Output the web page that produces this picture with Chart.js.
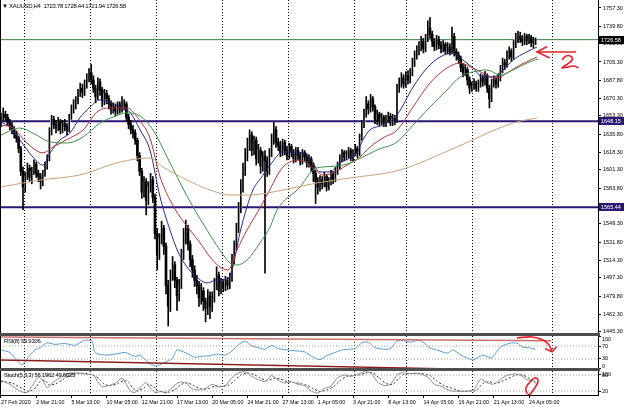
<!DOCTYPE html>
<html><head><meta charset="utf-8">
<script src="https://cdn.jsdelivr.net/npm/chart.js@4.4.0/dist/chart.umd.min.js"></script>
<style>
html,body{margin:0;padding:0;background:#fff;width:625px;height:407px;overflow:hidden;font-family:"Liberation Sans",Arial,sans-serif}
#wrap{position:relative;width:625px;height:407px}
canvas{position:absolute;left:0}
.sep{position:absolute;left:0;width:600px;height:3px;background:#4d4d4d}
.lbl{position:absolute;font-size:6px;color:#000;white-space:pre;line-height:7px;letter-spacing:-0.3px}
</style></head><body><div id="wrap">
<canvas id="main" width="625" height="334" style="top:0"></canvas>
<canvas id="rsi" width="625" height="33" style="top:336px"></canvas>
<canvas id="sto" width="625" height="36" style="top:371px"></canvas>
<div class="sep" style="top:333px"></div>
<div class="sep" style="top:368px"></div>
<div class="lbl" style="left:2px;top:3px">▼ XAUUSD,H4  1723.78 1728.44 1721.94 1726.58</div>
<div class="lbl" style="left:4px;top:338px">RSI(8) 59.9306</div>
<div class="lbl" style="left:4px;top:372px">Stoch(5,3,3) 56.1962 49.6625</div>
</div>
<script>
// ---------- data ----------
const dateLabels = ["27 Feb 2020","2 Mar 21:00","5 Mar 13:00","10 Mar 05:00","12 Mar 21:00","17 Mar 13:00","20 Mar 05:00","24 Mar 21:00","27 Mar 13:00","1 Apr 05:00","3 Apr 21:00","8 Apr 13:00","14 Apr 05:00","16 Apr 21:00","21 Apr 13:00","24 Apr 05:00"];
const dateLabelBars = [0,16,32,48,64,80,96,112,128,144,160,176,192,208,224,240];
const weekGridBars = [10.9,40.9,70.9,100.9,130.9,160.9,184.5,214.1,250.5];
const priceTicks = [1757.30,1739.80,1722.80,1705.30,1687.80,1670.30,1653.30,1635.80,1618.30,1601.30,1583.80,1549.30,1531.80,1514.30,1497.30,1479.80,1462.30,1445.30];
const hLevels = [1648.15,1565.44];
const greenLevel = 1726.8;
const lastPrice = 1726.58;

const open = [1646,1650,1655,1652,1647,1644,1640,1636,1632,1622,
1600,1585,1595,1603,1594,1600,1607,1598,1595,1590,
1598,1605,1612,1638,1650,1645,1642,1648,1640,1646,
1643,1640,1652,1660,1664,1668,1675,1680,1676,1684,
1690,1695,1688,1680,1672,1686,1678,1668,1675,1670,
1665,1660,1662,1658,1664,1660,1662,1665,1652,1645,
1640,1637,1630,1615,1600,1580,1590,1572,1585,1592,
1575,1540,1520,1535,1545,1528,1490,1470,1500,1510,
1495,1480,1490,1520,1535,1545,1530,1515,1505,1495,
1490,1478,1485,1475,1468,1480,1470,1478,1490,1500,
1485,1492,1488,1495,1490,1497,1515,1528,1545,1565,
1585,1600,1615,1625,1635,1620,1630,1612,1620,1605,
1615,1610,1600,1618,1630,1640,1628,1625,1618,1628,
1620,1615,1624,1618,1612,1620,1615,1610,1618,1614,
1608,1612,1605,1598,1590,1585,1592,1588,1595,1585,
1590,1598,1592,1600,1605,1612,1618,1614,1616,1620,
1613,1618,1622,1617,1632,1645,1655,1665,1660,1670,
1662,1650,1655,1648,1652,1646,1650,1653,1647,1651,
1649,1680,1685,1690,1684,1692,1688,1695,1705,1712,
1716,1720,1725,1718,1728,1738,1732,1725,1720,1727,
1722,1718,1722,1716,1720,1715,1730,1715,1712,1708,
1700,1695,1698,1688,1680,1682,1685,1680,1684,1690,
1686,1692,1680,1670,1685,1688,1684,1690,1698,1705,
1702,1712,1716,1710,1722,1728,1730,1728,1725,1730,
1726,1729,1724,1723.78];
const high = [1656,1661,1658,1655,1650,1647,1643,1639,1634,1624,
1604,1599,1608,1606,1604,1611,1609,1601,1598,1601,
1609,1616,1642,1654,1653,1649,1652,1650,1649,1650,
1646,1655,1664,1669,1672,1679,1685,1684,1688,1694,
1699,1703,1692,1683,1690,1689,1681,1679,1678,1673,
1668,1666,1665,1667,1667,1672,1669,1667,1655,1649,
1644,1640,1632,1618,1603,1595,1593,1590,1598,1595,
1578,1545,1540,1552,1548,1531,1495,1505,1518,1513,
1498,1496,1525,1545,1553,1548,1533,1519,1509,1500,
1494,1492,1488,1478,1486,1484,1484,1497,1508,1503,
1497,1496,1499,1498,1502,1520,1533,1550,1570,1592,
1608,1622,1632,1640,1638,1634,1633,1626,1623,1619,
1620,1614,1622,1636,1647,1643,1632,1629,1631,1630,
1624,1627,1626,1621,1623,1623,1618,1621,1620,1617,
1616,1614,1608,1601,1594,1596,1595,1599,1597,1594,
1601,1600,1604,1609,1616,1621,1620,1620,1623,1622,
1621,1626,1624,1636,1649,1660,1672,1668,1674,1672,
1664,1659,1657,1656,1654,1654,1657,1656,1655,1654,
1684,1690,1695,1693,1696,1697,1699,1709,1716,1721,
1725,1730,1728,1732,1745,1748,1735,1728,1731,1730,
1725,1726,1724,1724,1723,1739,1733,1718,1715,1711,
1704,1703,1700,1691,1686,1689,1687,1688,1694,1693,
1696,1694,1683,1689,1692,1691,1694,1702,1709,1708,
1716,1720,1718,1726,1733,1735,1734,1731,1733,1732,
1732,1731,1729,1728.44];
const low = [1643,1648,1649,1644,1640,1636,1632,1628,1618,1596,
1563,1580,1592,1590,1588,1597,1594,1590,1583,1586,
1595,1602,1610,1635,1641,1637,1639,1636,1637,1639,
1635,1638,1650,1656,1660,1665,1672,1671,1673,1680,
1686,1684,1676,1666,1669,1673,1662,1664,1665,1660,
1655,1656,1653,1655,1656,1657,1659,1648,1641,1636,
1632,1626,1610,1596,1574,1575,1558,1568,1580,1570,
1535,1505,1515,1530,1520,1482,1451,1465,1495,1488,
1466,1475,1487,1515,1530,1524,1508,1498,1489,1482,
1470,1472,1466,1455,1462,1458,1465,1474,1486,1480,
1482,1484,1485,1486,1487,1494,1511,1524,1541,1560,
1580,1596,1610,1620,1615,1616,1606,1608,1598,1600,
1502,1595,1597,1614,1626,1623,1620,1614,1615,1616,
1611,1612,1614,1608,1609,1611,1606,1607,1610,1604,
1604,1600,1590,1569,1578,1581,1583,1585,1581,1582,
1587,1588,1590,1597,1602,1609,1610,1611,1613,1610,
1610,1615,1613,1615,1630,1642,1652,1655,1657,1658,
1646,1645,1644,1645,1643,1643,1647,1644,1644,1645,
1647,1676,1681,1680,1681,1684,1685,1692,1701,1708,
1712,1716,1714,1715,1725,1728,1720,1716,1717,1718,
1714,1715,1713,1713,1712,1713,1711,1707,1704,1696,
1691,1692,1683,1675,1677,1679,1677,1677,1681,1682,
1683,1676,1661,1667,1681,1680,1681,1687,1695,1698,
1700,1708,1706,1708,1719,1724,1724,1721,1722,1722,
1723,1720,1719,1721.94];
const close = [1650,1655,1652,1647,1644,1640,1636,1632,1622,1600,
1585,1595,1603,1594,1600,1607,1598,1595,1590,1598,
1605,1612,1638,1650,1645,1642,1648,1640,1646,1643,
1640,1652,1660,1664,1668,1675,1680,1676,1684,1690,
1695,1688,1680,1672,1686,1678,1668,1675,1670,1665,
1660,1662,1658,1664,1660,1662,1665,1652,1645,1640,
1637,1630,1615,1600,1580,1590,1572,1585,1592,1575,
1540,1520,1535,1545,1528,1490,1470,1500,1510,1495,
1480,1490,1520,1535,1545,1530,1515,1505,1495,1490,
1478,1485,1475,1468,1480,1470,1478,1490,1500,1485,
1492,1488,1495,1490,1497,1515,1528,1545,1565,1585,
1600,1615,1625,1635,1620,1630,1612,1620,1605,1615,
1610,1600,1618,1630,1640,1628,1625,1618,1628,1620,
1615,1624,1618,1612,1620,1615,1610,1618,1614,1608,
1612,1605,1598,1590,1585,1592,1588,1595,1585,1590,
1598,1592,1600,1605,1612,1618,1614,1616,1620,1613,
1618,1622,1617,1632,1645,1655,1665,1660,1670,1662,
1650,1655,1648,1652,1646,1650,1653,1647,1651,1649,
1680,1685,1690,1684,1692,1688,1695,1705,1712,1716,
1720,1725,1718,1728,1738,1732,1725,1720,1727,1722,
1718,1722,1716,1720,1715,1730,1715,1712,1708,1700,
1695,1698,1688,1680,1682,1685,1680,1684,1690,1686,
1692,1680,1670,1685,1688,1684,1690,1698,1705,1702,
1712,1716,1710,1722,1728,1730,1728,1725,1730,1726,
1729,1724,1723.78,1726.58];

// moving averages: [bar, price]
const maBlue = [[0,1647.5],[4,1642.7],[8.6,1630.2],[14.5,1613.8],[19,1606],[22.3,1617.7],[26.8,1630.2],[31.4,1637],[36,1652],[40.5,1662],[45,1668.7],[49.5,1666.8],[54,1662],[58.6,1657],[63.2,1640],[67.7,1620.5],[72.3,1575.3],[76.8,1543.5],[80.5,1522.3],[84.5,1508],[89,1498],[93.6,1492.5],[98.2,1495.4],[102.7,1495.4],[105,1505],[108.6,1540.6],[111.8,1565.7],[114.5,1582],[119,1596],[122.3,1606],[128.2,1618.6],[134.5,1618.6],[140.5,1612.8],[145,1599.4],[149.5,1599.4],[154,1608],[158.6,1612.8],[161.8,1617.7],[164.5,1630.2],[167.7,1639.8],[173.6,1644.6],[180,1654.3],[187.3,1681.2],[193.6,1699.5],[199.5,1710],[205.5,1714],[210,1707.2],[214.5,1699.5],[219,1690.8],[223.6,1690.8],[228.2,1697.6],[232.7,1707.2],[239,1715],[243.6,1719.7]];
const maRed = [[0,1644.6],[5.5,1641.7],[11.8,1627.3],[19.1,1617.7],[23.6,1623.4],[31.4,1632.1],[37.3,1639.8],[43.6,1657.1],[49.5,1661],[57.3,1661],[63.2,1648.5],[67.7,1632],[72.3,1594.6],[76.8,1572.4],[81.4,1556],[85.9,1543.5],[90.5,1531],[95,1517.5],[99.5,1507.9],[103.2,1505],[107.3,1524.3],[111.8,1543.5],[116.4,1559.9],[120.9,1577.2],[128.2,1604.2],[135.9,1610.9],[141.8,1603.2],[146.4,1596.5],[150.9,1598.4],[157.3,1606.1],[163.2,1613.8],[167.7,1623.4],[173.6,1632.1],[180,1639.8],[187.3,1662],[195,1685.1],[202.7,1699.5],[208.6,1704.3],[214.5,1699.5],[220.9,1692.8],[225.5,1689.9],[230,1694.7],[235.9,1702.4],[243.6,1710.1]];
const maGreen = [[0,1635],[8.6,1641.7],[14.5,1636.9],[22.3,1628.3],[30,1627.3],[37.3,1633.1],[45,1646.5],[50.9,1652.3],[57.3,1656.2],[63.2,1653.3],[69.1,1639.8],[75.5,1613.8],[81.4,1588.8],[87.3,1565.7],[93.6,1543.5],[99.5,1524.3],[104.1,1511.7],[107.3,1509.8],[111.8,1514.6],[117.7,1531],[122.3,1546.4],[125.5,1562.8],[135.9,1584.9],[141.8,1601.3],[146.4,1604.2],[152.7,1605.1],[158.6,1608],[164.5,1613.8],[170.9,1620.6],[180,1628.3],[187.3,1644.6],[195,1662],[202.7,1678.3],[208.6,1690.8],[214.5,1695.7],[220.9,1697.6],[226.8,1692.8],[232.7,1697.6],[239.1,1704.3],[244.1,1708.2]];
const maTan = [[0,1584.9],[18.2,1591.7],[35.9,1596.5],[54.1,1609],[67.7,1612.8],[73.6,1604.2],[84.5,1591.7],[95,1582],[104.1,1577.2],[113.2,1577.2],[128.2,1582],[143.6,1588.8],[158.6,1593.6],[181.4,1601.3],[204.1,1620.5],[232.7,1646.5],[243.6,1651.4]];

// RSI(8) and Stochastic(5,3,3): [bar, value]
const rsiValues = [[0,58],[4,50],[9.5,12],[13,40],[15.5,58],[17.7,65],[21,80],[24.5,75],[29,78],[33.6,72],[38,88],[41.4,85],[42.7,50],[47.3,42],[51.8,45],[56.4,50],[60.9,38],[63.2,42],[67.7,15],[70.9,8],[74.5,20],[77.7,30],[80,58],[83.6,50],[88.2,35],[90.5,38],[95,40],[98,45],[102,42],[105,55],[108,75],[111,85],[114,70],[117,65],[120,60],[123,72],[126,62],[130,58],[134,55],[138,52],[142,35],[145,28],[148,40],[151,48],[155,58],[158,60],[161,62],[164,80],[167,82],[170,65],[174,60],[177,62],[180,85],[182,88],[186,82],[190.5,88],[195,64],[198,58],[203,48],[205.5,58],[209,42],[212,33],[214.5,27],[219,42],[223,33],[227,67],[231.4,79],[234.5,79],[237,67],[240.5,64],[243,60]];
const rsiUpperTrend = [[0,98],[250,86]];
const rsiLowerTrend = [[0,27],[200,0]];
const stochMain = [[0,60],[4,45],[9,18],[12,15],[15,50],[17,72],[19,60],[21,32],[24,55],[27,70],[30,85],[34,88],[38,84],[42,80],[44,55],[46,36],[49,40],[52,50],[55,68],[57,45],[59,18],[61,15],[64,40],[66,52],[68,30],[70,15],[73,18],[75,12],[78,35],[81,53],[84,50],[87,28],[90,24],[93,30],[96,45],[99,35],[102,40],[105,70],[108,88],[111,92],[114,75],[117,62],[120,55],[123,78],[126,60],[129,50],[132,55],[135,45],[138,40],[141,20],[144,12],[147,30],[150,38],[153,70],[156,80],[159,75],[162,82],[165,92],[168,88],[171,55],[174,40],[177,45],[180,80],[182,88],[186,85],[190,86],[194,72],[197,45],[200,38],[204,22],[208,18],[212,20],[215,25],[218,65],[221,50],[224,46],[229,75],[233,84],[236,80],[239,62],[243,56.2]];
const stochSignal = [[0,55],[5,50],[10,28],[13,18],[16,35],[18,58],[20,60],[22,42],[25,48],[28,62],[31,78],[35,86],[39,85],[43,75],[45,62],[47,45],[50,40],[53,48],[56,60],[58,52],[60,30],[62,20],[65,32],[67,45],[69,38],[71,22],[74,16],[76,15],[79,25],[82,45],[85,50],[88,38],[91,28],[94,28],[97,38],[100,38],[103,40],[106,58],[109,80],[112,88],[115,82],[118,68],[121,58],[124,68],[127,65],[130,55],[133,52],[136,48],[139,42],[142,28],[145,18],[148,24],[151,35],[154,58],[157,75],[160,78],[163,80],[166,88],[169,88],[172,68],[175,48],[178,45],[181,68],[183,82],[187,86],[191,85],[195,78],[198,58],[201,42],[205,30],[209,20],[213,19],[216,22],[219,48],[222,55],[225,48],[230,65],[234,80],[237,80],[240,68],[243,49.7]];

// hand-drawn red marks, in chart coordinates [bar, value]
const markArrow = [[261.4,1714.9],[243.6,1714.9]];
const markArrowHead = [[248.2,1720.2],[243.6,1714.9],[249.5,1709.1]];
const markTwo = [[255,1707.2],[256.8,1711.1],[259.1,1710.6],[259.6,1707.2],[256.8,1702.4],[255,1699.5],[257.7,1700.5],[260.5,1701.4],[262.5,1699.5]];
const markRsiCurve = [[234.5,95],[241.4,98],[246.4,88.5],[249.1,73],[250.5,52]];
const markRsiHead = [[247.2,62],[250.5,52],[252.5,68]];
const markStochOval = [[239.1,9],[238.6,31],[240.5,54],[242.7,69],[244.1,61],[243.2,39],[240.9,12],[239.3,4]];

// ---------- rendering ----------
const X_MIN = -0.4545, X_MAX = 271.36;
const FONT = '"Liberation Sans", Arial, sans-serif';
Chart.defaults.font.family = FONT;
Chart.defaults.font.size = 5.5;
Chart.defaults.color = '#000';

const pts = a => a.map(p => ({x: p[0], y: p[1]}));
const hline = v => [{x: X_MIN, y: v}, {x: X_MAX, y: v}];
const lineDs = (data, color, width, extra) => Object.assign({type: 'line', data, borderColor: color, borderWidth: width, pointRadius: 0, fill: false, tension: 0, order: 1}, extra || {});

function gridX() {
  return {type: 'linear', min: X_MIN, max: X_MAX, offset: false, display: true,
    ticks: {display: false}, border: {display: false, dash: [1, 2]},
    grid: {color: '#000', lineWidth: 1, drawTicks: false, offset: false},
    afterBuildTicks: s => { s.ticks = weekGridBars.map(v => ({value: v})); },
    afterFit: s => { s.height = 0; s.paddingLeft = 0; s.paddingRight = 0; }};
}
function rightY(min, max, showLabels, tickVals) {
  return {type: 'linear', position: 'right', min, max,
    ticks: {display: showLabels, autoSkip: false, padding: 2, font: {size: 5.5}, color: '#000', callback: v => Number(v).toFixed(2)},
    grid: {drawOnChartArea: false, drawTicks: true, tickLength: 3, tickColor: '#000', tickWidth: 1},
    border: {display: true, color: '#000', width: 1},
    afterBuildTicks: s => { s.ticks = tickVals.map(v => ({value: v})); },
    afterFit: s => { s.width = 27; s.paddingTop = 0; s.paddingBottom = 0; }};
}
const framePlugin = {id: 'frame', afterDraw(c) {
  const a = c.chartArea, ctx = c.ctx; ctx.save(); ctx.strokeStyle = '#000'; ctx.lineWidth = 1;
  ctx.beginPath(); ctx.moveTo(a.left + 0.5, a.top); ctx.lineTo(a.left + 0.5, a.bottom); ctx.stroke(); ctx.restore(); }};
const paneLabels = levels => ({id: 'paneLabels', afterDraw(c) {
  const y = c.scales.y, a = c.chartArea, ctx = c.ctx; ctx.save();
  ctx.font = '5.5px ' + FONT; ctx.fillStyle = '#000'; ctx.textBaseline = 'middle';
  levels.forEach(v => { let py = y.getPixelForValue(v); py = Math.min(Math.max(py, a.top + 3), a.bottom - 3); ctx.fillText(String(v), a.right + 4, py); });
  ctx.restore(); }});
const priceBoxes = {id: 'priceBoxes', afterDraw(c) {
  const y = c.scales.y, a = c.chartArea, ctx = c.ctx; ctx.save();
  ctx.font = '5.5px ' + FONT; ctx.textBaseline = 'middle';
  const boxes = [[lastPrice, '#000'], [hLevels[0], '#2a1775'], [hLevels[1], '#2a1775']];
  boxes.forEach(([v, col]) => { const py = Math.round(y.getPixelForValue(v));
    ctx.fillStyle = col; ctx.fillRect(a.right + 1, py - 4, 25, 8);
    ctx.fillStyle = '#fff'; ctx.fillText(v.toFixed(2), a.right + 3, py + 0.5); });
  ctx.restore(); }};

const wickData = high.map((h, i) => ({x: i, y: [low[i], h]}));
const bodyData = open.map((o, i) => ({x: i, y: [o, close[i]]}));
const bodyColors = open.map((o, i) => close[i] >= o ? '#ffffff' : '#000000');

new Chart(document.getElementById('main'), {
  type: 'bar',
  data: {datasets: [
    {type: 'bar', data: wickData, backgroundColor: '#000', barThickness: 1, grouped: false, order: 2},
    {type: 'bar', data: bodyData, backgroundColor: bodyColors, barThickness: 2, grouped: false, order: 3},
    lineDs(hline(greenLevel), '#3e7f3e', 1, {order: 4}),
    lineDs(hline(hLevels[0]), '#2a1775', 2, {order: 4}),
    lineDs(hline(hLevels[1]), '#2a1775', 2, {order: 4}),
    lineDs(pts(maTan), '#c9a27a', 1, {cubicInterpolationMode: 'monotone'}),
    lineDs(pts(maGreen), '#3f8f45', 1, {cubicInterpolationMode: 'monotone'}),
    lineDs(pts(maRed), '#b2353b', 1, {cubicInterpolationMode: 'monotone'}),
    lineDs(pts(maBlue), '#27288f', 1, {cubicInterpolationMode: 'monotone'}),
    lineDs(pts(markArrow), '#e3222b', 1.6, {order: 0}),
    lineDs(pts(markArrowHead), '#e3222b', 1.6, {order: 0}),
    lineDs(pts(markTwo), '#e3222b', 1.6, {order: 0, tension: 0.4})
  ]},
  options: {responsive: false, animation: false, devicePixelRatio: 1,
    layout: {padding: {top: 0, bottom: 1, left: 0, right: 0}},
    plugins: {legend: {display: false}, tooltip: {enabled: false}},
    scales: {x: gridX(), y: rightY(1444.3, 1765.0, true, priceTicks)}},
  plugins: [framePlugin, priceBoxes]
});

new Chart(document.getElementById('rsi'), {
  type: 'line',
  data: {datasets: [
    lineDs(hline(70), '#a0a0a0', 1, {borderDash: [1, 2]}),
    lineDs(hline(30), '#a0a0a0', 1, {borderDash: [1, 2]}),
    lineDs(pts(rsiUpperTrend), '#c9706d', 1.5),
    lineDs(pts(rsiLowerTrend), '#8b1a1a', 1.5),
    lineDs(pts(rsiValues), '#5b9bd5', 1, {tension: 0.2}),
    lineDs(pts(markRsiCurve), '#e3222b', 1.6, {order: 0, tension: 0.4}),
    lineDs(pts(markRsiHead), '#e3222b', 1.6, {order: 0})
  ]},
  options: {responsive: false, animation: false, devicePixelRatio: 1,
    layout: {padding: 0},
    plugins: {legend: {display: false}, tooltip: {enabled: false}},
    scales: {x: gridX(), y: rightY(-1, 101, false, [100, 70, 30, 0])}},
  plugins: [framePlugin, paneLabels([100, 70, 30, 0])]
});

const labelX = {type: 'linear', position: 'bottom', min: X_MIN, max: X_MAX, offset: false,
  ticks: {autoSkip: false, maxRotation: 0, minRotation: 0, align: 'start', padding: 1, font: {size: 5.3}, color: '#000',
    callback: (v, i) => dateLabels[i]},
  grid: {drawOnChartArea: false, drawTicks: true, tickLength: 3, tickColor: '#000'},
  border: {display: true, color: '#000', width: 1},
  afterBuildTicks: s => { s.ticks = dateLabelBars.map(v => ({value: v})); },
  afterFit: s => { s.height = 12; s.paddingLeft = 0; s.paddingRight = 0; }};

new Chart(document.getElementById('sto'), {
  type: 'line',
  data: {datasets: [
    lineDs(hline(80), '#a0a0a0', 1, {borderDash: [1, 2]}),
    lineDs(hline(20), '#a0a0a0', 1, {borderDash: [1, 2]}),
    lineDs(pts(stochMain), '#8c8c8c', 1, {tension: 0.2}),
    lineDs(pts(stochSignal), '#333', 1, {tension: 0.2, borderDash: [2, 2]}),
    lineDs(pts(markStochOval), '#e3222b', 1.6, {order: 0, tension: 0.5})
  ]},
  options: {responsive: false, animation: false, devicePixelRatio: 1,
    layout: {padding: 0},
    plugins: {legend: {display: false}, tooltip: {enabled: false}},
    scales: {x: gridX(), xl: labelX, y: rightY(5, 95, false, [100, 80, 20])}},
  plugins: [framePlugin, paneLabels([100, 80, 20])]
});
</script>
</body></html>
